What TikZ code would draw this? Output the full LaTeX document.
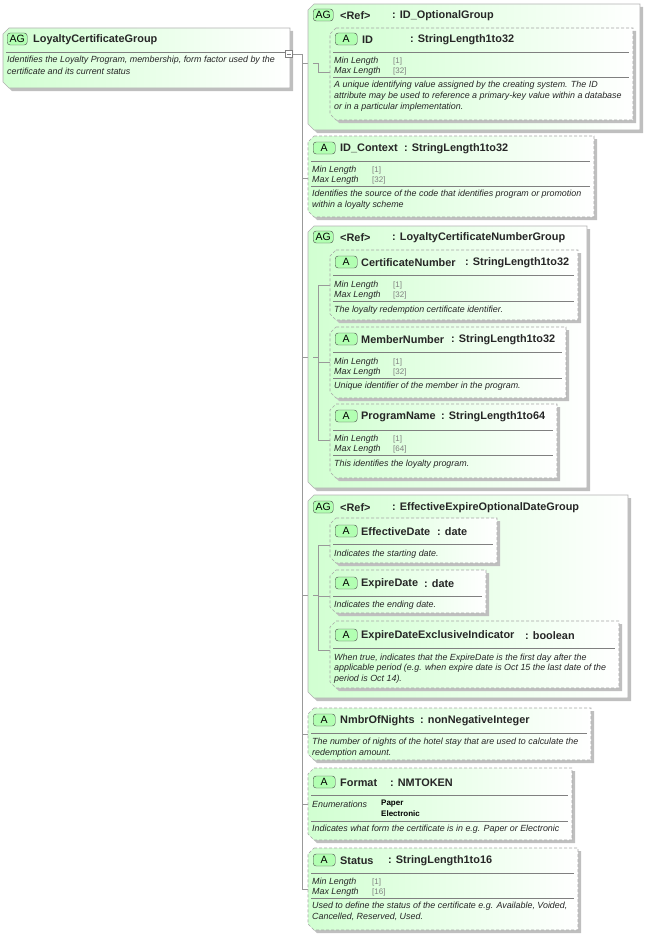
\documentclass[tikz,border=0pt]{standalone}
\usepackage{fontspec}
\setmainfont{Liberation Sans}
\begin{document}
\begin{tikzpicture}[x=1pt,y=-1pt,
  ttl/.style={anchor=west,inner sep=0pt,yshift=-1.5pt,font=\fontsize{10.9}{12}\selectfont\bfseries,text=black!85},
  txt/.style={anchor=west,inner sep=0pt,yshift=-1pt,font=\fontsize{8.9}{10}\selectfont\itshape,text=black!85},
  val/.style={anchor=west,inner sep=0pt,yshift=-1pt,font=\fontsize{8}{9}\selectfont,text=gray},
  enm/.style={anchor=west,inner sep=0pt,yshift=-1pt,font=\fontsize{8}{9}\selectfont\bfseries},
  badge/.style={draw=black!70,fill=green!30,rounded corners=3pt,inner sep=0pt,yshift=-1pt,minimum height=12pt,font=\fontsize{10.5}{11}\selectfont,anchor=west},
  sep/.style={draw=gray,line width=0.5pt},
  con/.style={draw=gray!80,line width=0.6pt}]
\useasboundingbox (0,0) rectangle (648,934);
\newcommand\bx[5]{%
 \fill[black!25] (#1+9,#2+3) -- (#3+3,#2+3) -- (#3+3,#4+3) -- (#1+9,#4+3) -- (#1+3,#4-3) -- (#1+3,#2+9) -- cycle;
 \shade[left color=green!18,right color=white] (#1+6,#2) -- (#3,#2) -- (#3,#4) -- (#1+6,#4) -- (#1,#4-6) -- (#1,#2+6) -- cycle;
 \draw[#5] (#1+6,#2) -- (#3,#2) -- (#3,#4) -- (#1+6,#4) -- (#1,#4-6) -- (#1,#2+6) -- cycle;}
\tikzset{dsh/.style={draw=gray!70,dashed,dash pattern=on 3pt off 2pt,line width=0.6pt},sld/.style={draw=gray!60,line width=0.6pt}}
\newcommand\sepl[3]{\draw[sep] (#1+3,#3) -- (#2-4,#3);}
% trunk
\coordinate (t0) at (302,54); \coordinate (t1) at (302,889);
\draw[con] (t0) -- (t1);
% main
\bx{3}{28}{290}{88}{sld}
\node[badge,minimum width=20pt] (bm) at (7,38) {AG};
\node[ttl] (nm) at (33,38) {LoyaltyCertificateGroup};
\sepl{3}{290}{52}
\node[txt] (dm1) at (7,59) {Identifies the Loyalty Program, membership, form factor used by the};
\node[txt] (dm2) at (7,70) {certificate and its current status};
\node[draw=gray,fill=white,minimum size=7pt,inner sep=0pt] (col) at (289,54) {};
\draw[gray] (col.center)++(-2,0) -- ++(4,0);
\draw[con] (col.east) -- (t0);
% 1
\foreach \y in {63,178,357,595,734,804,889}{\draw[con] (302,\y) -- (308,\y);}
\bx{308}{4}{640}{130}{sld}
\node[badge,minimum width=20pt] at (313,14) {AG};
\node[ttl] at (340,14) {<Ref>}; \node[ttl] at (392,14) {: ID\_OptionalGroup};
\draw[con] (313,63) -- (318,63) -- (318,72) -- (330,72);
\bx{330}{28}{633}{120}{dsh}
\node[badge,minimum width=22pt] at (335,38) {A};
\node[ttl] at (362,38) {ID}; \node[ttl] at (410,38) {: StringLength1to32};
\sepl{330}{633}{52}
\node[txt] at (334,60) {Min Length}; \node[val] at (393,60) {[1]};
\node[txt] at (334,70) {Max Length}; \node[val] at (393,70) {[32]};
\sepl{330}{633}{77}
\node[txt] at (334,84) {A unique identifying value assigned by the creating system.  The ID};
\node[txt] at (334,95) {attribute may be used to reference a primary-key value within a database};
\node[txt] at (334,106) {or in a particular implementation.};
% 2
\bx{308}{136}{594}{217}{dsh}
\node[badge,minimum width=22pt] at (313,147) {A};
\node[ttl] at (340,147) {ID\_Context}; \node[ttl] at (404,147) {: StringLength1to32};
\sepl{308}{594}{161}
\node[txt] at (312,169) {Min Length}; \node[val] at (372,169) {[1]};
\node[txt] at (312,179) {Max Length}; \node[val] at (372,179) {[32]};
\sepl{308}{594}{186}
\node[txt] at (312,193) {Identifies the source of the code that identifies program or promotion};
\node[txt] at (312,204) {within a loyalty scheme};
% 3
\bx{308}{226}{587}{488}{sld}
\node[badge,minimum width=20pt] at (313,236) {AG};
\node[ttl] at (340,236) {<Ref>}; \node[ttl] at (392,236) {: LoyaltyCertificateNumberGroup};
\draw[con] (313,357) -- (318,357); \draw[con] (318,285) -- (318,440);
\foreach \y in {285,362,440}{\draw[con] (318,\y) -- (330,\y);}
\bx{330}{250}{578}{320}{dsh}
\node[badge,minimum width=22pt] at (335,261) {A};
\node[ttl] at (361,261) {CertificateNumber}; \node[ttl] at (465,261) {: StringLength1to32};
\sepl{330}{578}{275}
\node[txt] at (334,284) {Min Length}; \node[val] at (393,284) {[1]};
\node[txt] at (334,294) {Max Length}; \node[val] at (393,294) {[32]};
\sepl{330}{578}{301}
\node[txt] at (334,309) {The loyalty redemption certificate identifier.};
\bx{330}{327}{566}{398}{dsh}
\node[badge,minimum width=22pt] at (335,338) {A};
\node[ttl] at (361,338) {MemberNumber}; \node[ttl] at (451,338) {: StringLength1to32};
\sepl{330}{566}{352}
\node[txt] at (334,361) {Min Length}; \node[val] at (393,361) {[1]};
\node[txt] at (334,371) {Max Length}; \node[val] at (393,371) {[32]};
\sepl{330}{566}{378}
\node[txt] at (334,385) {Unique identifier of the member in the program.};
\bx{330}{404}{557}{478}{dsh}
\node[badge,minimum width=22pt] at (335,415) {A};
\node[ttl] at (361,415) {ProgramName}; \node[ttl] at (441,415) {: StringLength1to64};
\sepl{330}{557}{430}
\node[txt] at (334,438) {Min Length}; \node[val] at (393,438) {[1]};
\node[txt] at (334,448) {Max Length}; \node[val] at (393,448) {[64]};
\sepl{330}{557}{455}
\node[txt] at (334,463) {This identifies the loyalty program.};
% 4
\bx{308}{495}{628}{698}{sld}
\node[badge,minimum width=20pt] at (313,506) {AG};
\node[ttl] at (340,506) {<Ref>}; \node[ttl] at (392,506) {: EffectiveExpireOptionalDateGroup};
\draw[con] (313,595) -- (318,595); \draw[con] (318,545) -- (318,650);
\foreach \y in {545,596,650}{\draw[con] (318,\y) -- (330,\y);}
\bx{330}{518}{497}{563}{dsh}
\node[badge,minimum width=22pt] at (335,530) {A};
\node[ttl] at (361,530) {EffectiveDate}; \node[ttl] at (437,530) {: date};
\sepl{330}{497}{544}
\node[txt] at (334,553) {Indicates the starting date.};
\bx{330}{570}{486}{613}{dsh}
\node[badge,minimum width=22pt] at (335,582) {A};
\node[ttl] at (361,582) {ExpireDate}; \node[ttl] at (424,582) {: date};
\sepl{330}{486}{596}
\node[txt] at (334,604) {Indicates the ending date.};
\bx{330}{621}{619}{688}{dsh}
\node[badge,minimum width=22pt] at (335,634) {A};
\node[ttl] at (361,634) {ExpireDateExclusiveIndicator}; \node[ttl] at (525,634) {: boolean};
\sepl{330}{619}{648}
\node[txt] at (334,657) {When true, indicates that the ExpireDate is the first day after the};
\node[txt] at (334,667) {applicable period (e.g. when expire date is Oct 15  the last date of the};
\node[txt] at (334,678) {period is Oct 14).};
% 5
\bx{308}{708}{591}{760}{dsh}
\node[badge,minimum width=22pt] at (313,719) {A};
\node[ttl] at (340,719) {NmbrOfNights}; \node[ttl] at (420,719) {: nonNegativeInteger};
\sepl{308}{591}{733}
\node[txt] at (312,741) {The number of nights of the hotel stay that are used to calculate the};
\node[txt] at (312,752) {redemption amount.};
% 6
\bx{308}{768}{572}{840}{dsh}
\node[badge,minimum width=22pt] at (313,781) {A};
\node[ttl] at (340,781) {Format}; \node[ttl] at (390,781) {: NMTOKEN};
\sepl{308}{572}{795}
\node[txt] at (312,803) {Enumerations}; \node[enm] at (381,803) {Paper}; \node[enm] at (381,813) {Electronic};
\sepl{308}{572}{821}
\node[txt] at (312,828) {Indicates what form the certificate is in e.g. Paper or Electronic};
% 7
\bx{308}{848}{578}{930}{dsh}
\node[badge,minimum width=22pt] at (313,859) {A};
\node[ttl] at (340,859) {Status}; \node[ttl] at (388,859) {: StringLength1to16};
\sepl{308}{578}{873}
\node[txt] at (312,881) {Min Length}; \node[val] at (372,881) {[1]};
\node[txt] at (312,891) {Max Length}; \node[val] at (372,891) {[16]};
\sepl{308}{578}{898}
\node[txt] at (312,905) {Used to define the status of the certificate e.g. Available, Voided,};
\node[txt] at (312,916) {Cancelled, Reserved, Used.};
\end{tikzpicture}
\end{document}
